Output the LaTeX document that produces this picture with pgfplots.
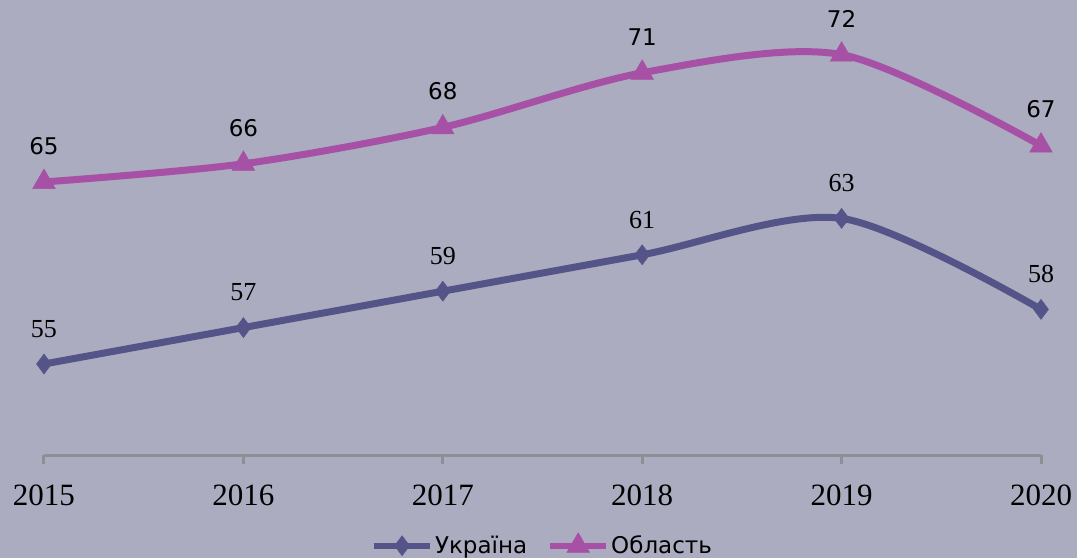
\documentclass[border=0pt]{standalone}
\usepackage{fontspec}
\setmainfont{Liberation Serif}
\newfontfamily\dejavu{DejaVu Sans}
\usepackage{pgfplots}
\pgfplotsset{compat=1.18}
\definecolor{bg}{HTML}{ABACBF}
\definecolor{ukr}{HTML}{545489}
\definecolor{obl}{HTML}{A650A6}
\definecolor{axgray}{HTML}{8E8E95}

\begin{document}
\begin{tikzpicture}[x=1pt,y=1pt]
\fill[bg] (-44,-103) rectangle (1033,455);
\useasboundingbox (-44,-103) rectangle (1033,455);
\begin{axis}[at={(0,0)}, anchor=south west, scale only axis,
  width=997pt, height=455pt,
  xmin=2015, xmax=2020, ymin=50, ymax=75,
  clip=false,
  axis y line=none, axis x line*=bottom,
  x axis line style={axgray, line width=3pt, -},
  xtick={2015,2016,2017,2018,2019,2020},
  xtick style={axgray, line width=3pt},
  tick align=outside, major tick length=9pt,
  /pgf/number format/1000 sep={},
  /pgf/number format/assume math mode=true,
  xticklabel style={font=\fontsize{31}{31}\selectfont, text=black, yshift=-17pt},
  legend columns=2,
  legend style={draw=none, fill=none, at={(0.5,-0.198)}, anchor=center,
    font=\dejavu\fontsize{23}{23}\selectfont,
    /tikz/every even column/.append style={column sep=18pt}},
  legend image code/.code={\draw[#1, line width=6pt, mark repeat=2, mark phase=2]
    plot coordinates {(0pt,0pt)(28pt,0pt)(56pt,0pt)};},
]
\addplot[ukr, line width=7pt, smooth, mark=diamond*, mark size=10pt,
  mark options={line width=0.5pt, solid},
  nodes near coords,
  nodes near coords style={font=\fontsize{26}{26}\selectfont, text=black, anchor=center, yshift=35pt}]
  coordinates {(2015,55) (2016,57) (2017,59) (2018,61) (2019,63) (2020,58)};
\addlegendentry{Україна}
\addplot[obl, line width=7pt, smooth, mark=triangle*, mark size=13pt,
  mark options={line width=0.5pt, solid},
  nodes near coords,
  nodes near coords style={font=\dejavu\fontsize{23}{23}\selectfont, text=black, anchor=center, yshift=36pt}]
  coordinates {(2015,65) (2016,66) (2017,68) (2018,71) (2019,72) (2020,67)};
\addlegendentry{Область}
\end{axis}
\end{tikzpicture}
\end{document}
